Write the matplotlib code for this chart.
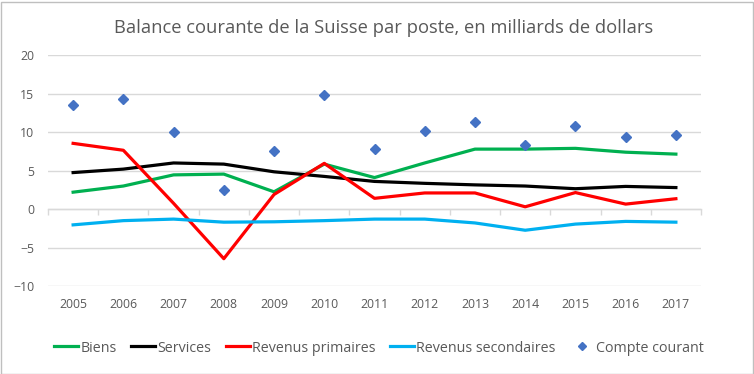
import matplotlib.pyplot as plt
from matplotlib.patches import Rectangle

plt.rcParams["font.family"] = ["Open Sans", "DejaVu Sans"]

# Data (milliards de dollars)
years = ["2005", "2006", "2007", "2008", "2009", "2010", "2011",
         "2012", "2013", "2014", "2015", "2016", "2017"]
biens = [2.2, 3.0, 4.45, 4.55, 2.25, 5.85, 4.1, 6.0, 7.8, 7.8, 7.9, 7.4, 7.15]
services = [4.75, 5.2, 6.0, 5.85, 4.85, 4.25, 3.6, 3.35, 3.15, 3.0, 2.65, 2.95, 2.8]
rev_primaires = [8.55, 7.65, 0.75, -6.45, 1.9, 5.95, 1.4, 2.1, 2.1, 0.3, 2.15, 0.65, 1.35]
rev_secondaires = [-2.05, -1.5, -1.3, -1.7, -1.65, -1.5, -1.3, -1.3, -1.8, -2.75, -1.95, -1.6, -1.7]
compte_courant = [13.55, 14.3, 10.0, 2.45, 7.55, 14.8, 7.85, 10.2, 11.3, 8.4, 10.8, 9.35, 9.7]

grey_txt = "#595959"
grid_col = "#D9D9D9"

fig = plt.figure(figsize=(7.54, 3.74), dpi=100)
ax = fig.add_axes([48 / 754, 1 - 286 / 374, 653 / 754, 230.7 / 374])

x = range(len(years))
ax.plot(x, biens, color="#00B050", lw=2.3, label="Biens", zorder=3)
ax.plot(x, services, color="#000000", lw=2.3, label="Services", zorder=3)
ax.plot(x, rev_primaires, color="#FF0000", lw=2.3, label="Revenus primaires", zorder=3)
ax.plot(x, rev_secondaires, color="#00B0F0", lw=2.3, label="Revenus secondaires", zorder=3)
ax.plot(x, compte_courant, ls="none", marker="D", ms=5, color="#4472C4",
        label="Compte courant", zorder=4)

ymin, ymax = -10, 20
ax.set_ylim(ymin, ymax)
ax.set_xlim(-0.5, len(years) - 0.5)
ax.set_yticks(range(-10, 21, 5))
ax.set_xticks(list(x))
ax.set_xticklabels(years)
ax.tick_params(axis="both", length=0, colors=grey_txt, labelsize=8.8)
ax.tick_params(axis="y", pad=10)
ax.tick_params(axis="x", pad=9)
ax.yaxis.grid(True, color=grid_col, lw=1)
ax.set_axisbelow(True)
for s in ax.spines.values():
    s.set_visible(False)

# category axis crossing at zero, with tick marks between categories
zero_ax = ax.secondary_xaxis((0 - ymin) / (ymax - ymin))
zero_ax.set_xticks([i - 0.5 for i in range(len(years) + 1)])
zero_ax.set_xticklabels([])
zero_ax.tick_params(direction="out", length=4, color=grid_col, width=1)
zero_ax.spines["bottom"].set_color(grid_col)
zero_ax.spines["bottom"].set_linewidth(1)

fig.suptitle("Balance courante de la Suisse par poste, en milliards de dollars",
             x=384 / 754, y=1 - 28 / 374, va="center", fontsize=13.2, color=grey_txt)

leg = fig.legend(loc="center", bbox_to_anchor=(379 / 754, 1 - 348 / 374), ncol=5,
                 frameon=False, fontsize=10.3, handlelength=1.7, handletextpad=0.15,
                 columnspacing=1.0, labelcolor=grey_txt, markerscale=0.8)

fig.add_artist(Rectangle((0.5 / 754, 0.5 / 374), 752 / 754, 372 / 374,
                         transform=fig.transFigure, fill=False,
                         edgecolor="#BFBFBF", lw=1))

fig.savefig("out.png", dpi=100)
